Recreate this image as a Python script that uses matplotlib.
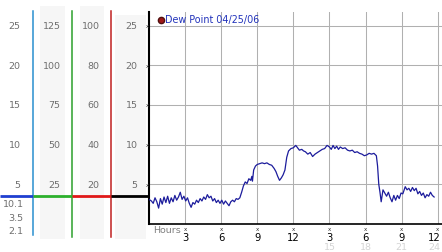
import matplotlib
matplotlib.use("Agg")
import matplotlib.pyplot as plt
import matplotlib.transforms as mtransforms
from matplotlib.patches import Rectangle

# ---------------- data ----------------
hours = [0.0, 0.2, 0.35, 0.5, 0.65, 0.8, 0.95, 1.1, 1.25, 1.4, 1.55, 1.7, 1.85, 2.0, 2.15, 2.3,
         2.45, 2.6, 2.75, 2.9, 3.05, 3.2, 3.35, 3.5, 3.65, 3.8, 3.95, 4.1, 4.25, 4.4, 4.55, 4.7,
         4.85, 5.0, 5.15, 5.3, 5.45, 5.6, 5.75, 5.9, 6.05, 6.2, 6.35, 6.5, 6.65, 6.8, 6.95, 7.1,
         7.25, 7.4, 7.55, 7.7, 7.85, 8.0, 8.15, 8.3, 8.45, 8.55, 8.6, 8.7, 8.85, 9.0, 9.2, 9.4,
         9.6, 9.8, 10.0, 10.2, 10.4, 10.55, 10.7, 10.85, 11.0, 11.15, 11.3, 11.45, 11.6, 11.8,
         12.0, 12.2, 12.35, 12.5, 12.7, 12.85, 13.0, 13.2, 13.4, 13.6, 13.8, 14.0, 14.2, 14.4,
         14.6, 14.8, 15.0, 15.15, 15.3, 15.45, 15.6, 15.75, 15.9, 16.1, 16.3, 16.5, 16.7, 16.9,
         17.1, 17.3, 17.5, 17.7, 17.9, 18.1, 18.3, 18.5, 18.7, 18.9, 19.0, 19.1, 19.2, 19.3,
         19.45, 19.6, 19.75, 19.9, 20.05, 20.2, 20.35, 20.5, 20.65, 20.8, 20.95, 21.1, 21.3,
         21.45, 21.6, 21.75, 21.9, 22.05, 22.2, 22.35, 22.5, 22.65, 22.8, 22.95, 23.1, 23.25,
         23.4, 23.55, 23.7]
dew_point = [3.1, 2.9, 2.6, 3.3, 2.8, 2.0, 3.2, 2.5, 3.4, 2.7, 3.5, 2.6, 3.3, 2.8, 3.6, 3.0,
             3.4, 4.0, 3.1, 3.5, 2.9, 3.3, 2.6, 2.1, 2.7, 2.5, 3.0, 2.7, 3.2, 2.9, 3.4, 3.1,
             3.7, 3.3, 3.5, 2.9, 3.2, 2.7, 3.0, 2.6, 3.0, 2.5, 2.9, 2.6, 2.3, 2.8, 3.0, 2.8,
             3.2, 3.1, 3.3, 4.0, 4.8, 5.3, 5.1, 5.7, 5.5, 6.0, 5.4, 6.8, 7.3, 7.5, 7.6, 7.7,
             7.6, 7.7, 7.5, 7.4, 7.0, 6.6, 6.0, 5.5, 5.8, 6.2, 6.8, 8.4, 9.2, 9.5,
             9.6, 9.9, 9.6, 9.3, 9.4, 9.2, 9.1, 8.8, 9.0, 8.5, 8.8, 9.0, 9.2, 9.4,
             9.5, 9.9, 9.7, 9.4, 9.9, 9.5, 9.8, 9.4, 9.7, 9.5, 9.6, 9.3, 9.2, 9.3,
             9.0, 9.1, 8.9, 8.8, 8.6, 8.7, 8.9, 8.8, 8.9, 8.6, 7.3, 5.0, 4.0, 2.8,
             4.3, 3.9, 3.5, 4.0, 3.3, 2.8, 3.6, 3.0, 3.6, 3.2, 3.9, 3.8, 4.7,
             4.3, 4.5, 4.1, 4.6, 4.2, 4.5, 3.8, 4.1, 3.6, 3.9, 3.3, 3.7, 3.5,
             4.0, 3.6, 3.4]

y_ticks = [5, 10, 15, 20, 25]
scale_1 = ["5", "10", "15", "20", "25"]
scale_2 = ["25", "50", "75", "100", "125"]
scale_3 = ["20", "40", "60", "80", "100"]
scale_4 = ["5", "10", "15", "20", "25"]
x_ticks = [3, 6, 9, 12, 15, 18, 21, 24]
x_labels = ["3", "6", "9", "12", "3", "6", "9", "12"]
x_sub_ticks = [15, 18, 21, 24]
x_sub_labels = ["15", "18", "21", "24"]
current_values = ["10.1", "3.5", "2.1"]
current_level = 3.5
legend_label = "Dew Point 04/25/06"

# ---------------- figure ----------------
W, H = 442, 253
fig = plt.figure(figsize=(W / 100, H / 100), dpi=100)
fig.patch.set_facecolor("white")

def fy(py):
    return 1 - py / H

def fx(px):
    return px / W

ax = fig.add_axes([fx(149), fy(225), fx(442) - fx(149), fy(13) - fy(225)])
ax.set_xlim(0, (442 - 149) / 12.03)
ax.set_ylim(0, (225 - 13) / 7.94)
ax.set_facecolor("none")

for v in y_ticks:
    ax.axhline(v, color="#b0b0b0", lw=0.75, zorder=1)
for h in x_ticks:
    ax.axvline(h, color="#b0b0b0", lw=0.75, zorder=1)

ax.plot(hours, dew_point, color="#1c1c9c", lw=0.9, zorder=3)

for s in ["top", "right"]:
    ax.spines[s].set_visible(False)
ax.spines["left"].set_color("black")
ax.spines["left"].set_linewidth(1.5)
ax.spines["bottom"].set_color("black")
ax.spines["bottom"].set_linewidth(1.2)
ax.set_xticks([])
ax.set_yticks([])

tr_y = mtransforms.blended_transform_factory(
    mtransforms.Affine2D().scale(1 / W, 1) + fig.transFigure, ax.transData)
tr_x = mtransforms.blended_transform_factory(
    ax.transData, mtransforms.Affine2D().scale(1, -1 / H).translate(0, 1) + fig.transFigure)
tr_pix = mtransforms.Affine2D().scale(1 / W, -1 / H).translate(0, 1) + fig.transFigure

for (x0, x1, y0, y1) in [(40, 65, 7, 240), (80, 104, 7, 240), (115, 146, 16, 240)]:
    fig.patches.append(Rectangle((x0, y0), x1 - x0, y1 - y0, transform=tr_pix,
                                 facecolor="#f6f6f6", edgecolor="none", zorder=0))

fig.add_artist(plt.Line2D([33, 33], [12, 236], transform=tr_pix, color="#2a90d0", lw=1.1))
fig.add_artist(plt.Line2D([72, 72], [12, 238], transform=tr_pix, color="#2ca02c", lw=1.1))
fig.add_artist(plt.Line2D([111, 111], [12, 238], transform=tr_pix, color="#c02020", lw=1.1))

for (x0, x1, c) in [(0, 33, "#1f3fd0"), (33, 72, "#2cb02c"), (72, 111, "#e01818"),
                    (111, 149, "black")]:
    fig.add_artist(plt.Line2D([x0, x1], [current_level, current_level], transform=tr_y,
                              color=c, lw=2.0, solid_capstyle="butt"))

lab_kw = dict(color="#6e6e6e", fontsize=6.8, va="center", ha="right", family="DejaVu Sans")
for v, a, b, c, d in zip(y_ticks, scale_1, scale_2, scale_3, scale_4):
    fig.text(20.5, v, a, transform=tr_y, **lab_kw)
    fig.text(60.5, v, b, transform=tr_y, **lab_kw)
    fig.text(99.5, v, c, transform=tr_y, **lab_kw)
    fig.text(137.5, v, d, transform=tr_y, **lab_kw)
    fig.text(147, v, "x", transform=tr_y, color="#333333", fontsize=4, va="center",
             ha="center")

for py, t in zip([205, 218.5, 232], current_values):
    fig.text(23.5, py, t, transform=tr_pix, **lab_kw)

last_shift = mtransforms.ScaledTranslation(-3 / 100, 0, fig.dpi_scale_trans)
for i, (h, t) in enumerate(zip(x_ticks, x_labels)):
    tr = tr_x + last_shift if i == len(x_ticks) - 1 else tr_x
    fig.text(h, 229.5, "x", transform=tr_x, color="#333333", fontsize=4, ha="center",
             va="center")
    fig.text(h, 238, t, transform=tr, color="black", fontsize=7.2, ha="center",
             va="center")
for i, (h, t) in enumerate(zip(x_sub_ticks, x_sub_labels)):
    tr = tr_x + last_shift if i == len(x_sub_ticks) - 1 else tr_x
    fig.text(h, 247.5, t, transform=tr, color="#d4d4d4", fontsize=6.8, ha="center",
             va="center")
fig.text(153, 231, "Hours", transform=tr_pix, color="#808080", fontsize=6.8, ha="left",
         va="center")

fig.add_artist(plt.Line2D([161], [20.5], transform=tr_pix, marker="o", markersize=4.5,
                          markerfacecolor="#a01818", markeredgecolor="#501010", lw=0))
fig.text(165, 20.5, legend_label, transform=tr_pix, color="#2233bb", fontsize=6.9,
         ha="left", va="center")

fig.savefig("out.png", dpi=100)
